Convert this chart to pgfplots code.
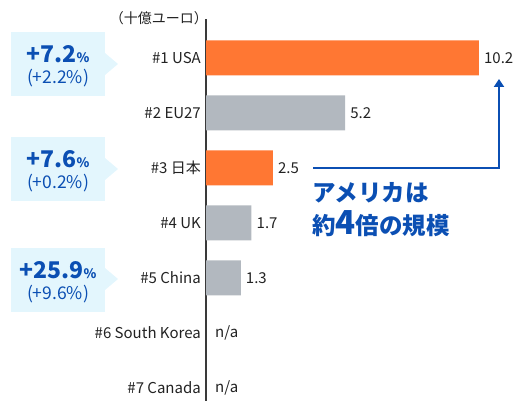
\documentclass[border=0pt]{standalone}
\usepackage{fontspec}
\setmainfont{Noto Sans CJK JP}
\newfontfamily\heavy{Noto Sans CJK JP Black}
\usepackage{pgfplots}
\pgfplotsset{compat=1.18}
\usetikzlibrary{arrows.meta}
\definecolor{barorange}{HTML}{FF7733}
\definecolor{bargray}{HTML}{B2B8BF}
\definecolor{nblue}{HTML}{0B4FB3}
\definecolor{callbg}{HTML}{E3F6FD}
\definecolor{axisgray}{HTML}{3A3A3A}
\definecolor{txt}{HTML}{222222}

\newcommand{\callout}[4]{% y-top, tip y, big number, small text
  \fill[callbg] (11,#1) rectangle (105,#1-64);
  \fill[callbg] (105,#2+11) -- (118,#2) -- (105,#2-11) -- cycle;
  \node[nblue, inner sep=0pt] at (58,#1-22)
    {\heavy\fontsize{23}{24}\selectfont #3{\fontsize{13}{14}\selectfont\%}};
  \node[nblue, inner sep=0pt] at (58,#1-46)
    {\fontsize{17.5}{19}\selectfont #4};
}

\begin{document}
\begin{tikzpicture}[x=1pt,y=1pt]
\useasboundingbox (0,0) rectangle (513,401);
\begin{axis}[
  at={(206pt,0pt)}, anchor=south west,
  scale only axis, width=307.7pt, height=381.7pt,
  clip=false,
  xbar, bar width=35pt, bar shift=0pt,
  xmin=0, xmax=11.5,
  ymin=-0.7, ymax=6.24, y dir=reverse,
  axis x line=none, axis y line*=left,
  axis line style={axisgray, line width=1.6pt},
  xtick=\empty,
  ytick={0,1,2,3,4,5,6},
  yticklabels={\#1 USA, \#2 EU27, \#3 日本, \#4 UK, \#5 China, \#6 South Korea, \#7 Canada},
  major tick length=0pt,
  yticklabel style={font=\fontsize{15}{17}\selectfont, text=txt, inner sep=0pt, xshift=-5pt},
  nodes near coords,
  nodes near coords style={anchor=west, inner sep=0pt, xshift=5pt, text=txt,
    font=\fontsize{15}{17}\selectfont},
  every node near coord/.append style={/pgf/number format/.cd, fixed, fixed zerofill, precision=1, assume math mode=true},
]
\addplot[fill=barorange, draw=none] coordinates {(10.2,0) (2.5,2)};
\addplot[fill=bargray, draw=none] coordinates {(5.2,1) (1.7,3) (1.3,4)};
\node[anchor=west, inner sep=0pt, xshift=9pt, text=txt, font=\fontsize{15}{17}\selectfont] at (axis cs:0,5) {n/a};
\node[anchor=west, inner sep=0pt, xshift=9pt, text=txt, font=\fontsize{15}{17}\selectfont] at (axis cs:0,6) {n/a};
\end{axis}
% unit label
\node[anchor=east, inner sep=0pt, text=txt, font=\fontsize{14}{16}\selectfont] at (208,383) {（十億ユーロ）};
% callouts
\callout{369}{337}{+7.2}{(+2.2\%)}
\callout{264}{232}{+7.6}{(+0.2\%)}
\callout{153}{122}{+25.9}{(+9.6\%)}
% arrow
\draw[nblue, line width=2.4pt, -{Triangle[length=8pt,width=10pt]}] (313,233) -- (499,233) -- (499,322);
\node[anchor=west, inner sep=0pt, nblue, font=\heavy\fontsize{23.5}{25}\selectfont] at (312,208) {アメリカは};
\node[anchor=west, inner sep=0pt, nblue, font=\heavy\fontsize{23.5}{25}\selectfont] at (312,177) {約{\fontsize{33}{34}\selectfont 4}倍の規模};
\end{tikzpicture}
\end{document}
